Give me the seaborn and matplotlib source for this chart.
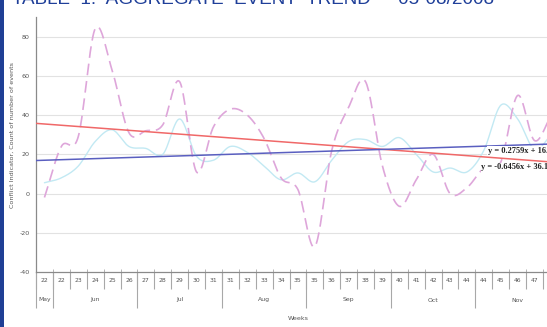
import numpy as np
import pandas as pd
import matplotlib
matplotlib.use("Agg")
import matplotlib.pyplot as plt
from matplotlib.patches import Rectangle
import seaborn as sns

# Week numbers along the category axis and the month each week falls in
weeks = [22, 22, 23, 24, 25, 26, 27, 28, 29, 30, 31, 31, 32, 33, 34, 35,
         35, 36, 37, 38, 39, 40, 41, 42, 43, 44, 44, 45, 46, 47, 48]
months = ["May", "Jun", "Jul", "Aug", "Sep", "Oct", "Nov"]
month_weeks = [1, 5, 5, 5, 5, 5, 5]

# Weekly count of events
events = [-2, 24, 29, 84, 63, 31, 32, 35, 57, 11, 34, 43, 40, 28, 8, 2,
          -27, 22, 44, 57, 14, -6.5, 7, 20, 0, 3, 13, 16, 50, 27, 40]
# Weekly conflict indicator
conflict = [5.5, 8, 14, 26.5, 32.5, 24, 23, 20, 38, 19, 17, 24, 21, 14, 7,
            10.5, 6, 17, 26.5, 27.5, 24, 28.5, 20, 11, 13, 11, 22, 45, 38,
            22.5, 30]

# Linear trend lines (slope, intercept), x counted from 1
events_trend = (-0.6456, 36.1)
conflict_trend = (0.2759, 16.7)

yticks = [-40, -20, 0, 20, 40, 60, 80]


def smooth(values, n=24):
    """Catmull-Rom curve through the weekly values (x = category index)."""
    y = np.asarray(values, float)
    p = np.concatenate([[2 * y[0] - y[1]], y, [2 * y[-1] - y[-2]]])
    t = np.linspace(0, 1, n, endpoint=False)
    xs, ys = [], []
    for k in range(len(y) - 1):
        p0, p1, p2, p3 = p[k:k + 4]
        seg = 0.5 * (2 * p1 + (-p0 + p2) * t
                     + (2 * p0 - 5 * p1 + 4 * p2 - p3) * t ** 2
                     + (-p0 + 3 * p1 - 3 * p2 + p3) * t ** 3)
        xs.append(k + t)
        ys.append(seg)
    xs.append([len(y) - 1])
    ys.append([y[-1]])
    return np.concatenate(xs), np.concatenate(ys)


sns.set_style("white")
plt.rcParams["font.family"] = ["DejaVu Sans"]

W, H = 547, 327
fig = plt.figure(figsize=(W / 100, H / 100), dpi=100)
ax_left, ax_right, ax_bottom, ax_top = 36, W, 272, 17
ax = fig.add_axes([ax_left / W, (H - ax_bottom) / H,
                   (ax_right - ax_left) / W, (ax_bottom - ax_top) / H])

cat_px = 16.9
x_max = -0.5 + (ax_right - ax_left) / cat_px
ax.set_xlim(-0.5, x_max)
ax.set_ylim(-40, 90)

# grid
for v in yticks[1:]:
    ax.axhline(v, color="#e2e2e2", lw=0.8, zorder=0)

# series
ex, ey = smooth(events)
cx, cy = smooth(conflict)
df_e = pd.DataFrame({"x": ex, "y": ey})
df_c = pd.DataFrame({"x": cx, "y": cy})
sns.lineplot(data=df_c, x="x", y="y", ax=ax, color="#c2e9f3", lw=1.0,
             estimator=None, sort=False, zorder=2)
sns.lineplot(data=df_e, x="x", y="y", ax=ax, color="#dea6da", lw=1.2,
             estimator=None, sort=False, linestyle=(0, (7, 3.5)), zorder=3)

# trend lines
tx = np.array([-0.5, x_max])
for (m, b), col in [(events_trend, "#f06868"), (conflict_trend, "#5a5fc0")]:
    sns.lineplot(x=tx, y=m * (tx + 1) + b, ax=ax, color=col, lw=1.1,
                 estimator=None, sort=False, zorder=4)

# trend equations
lab_font = dict(family="Liberation Serif", fontweight="bold", fontsize=6.0,
                color="#222222", zorder=6, clip_on=False)
m, b = conflict_trend
ax.text(26.25, 21.6, f"y = {m:.4f}x + {b:.1f}", ha="left", va="center",
        bbox=dict(facecolor="white", edgecolor="none", pad=0.6), **lab_font)
m, b = events_trend
ax.text(25.83, 13.3, f"y = {m:.4f}x + {b:.1f}", ha="left", va="center",
        bbox=dict(facecolor="white", edgecolor="none", pad=0.3), **lab_font)

# axes styling
for s in ["top", "right"]:
    ax.spines[s].set_visible(False)
ax.spines["left"].set_color("#8a8a8a")
ax.spines["bottom"].set_color("#8a8a8a")
ax.spines["left"].set_linewidth(0.9)
ax.spines["bottom"].set_linewidth(0.9)
ax.set_yticks(yticks)
ax.set_yticklabels([str(v) for v in yticks])
ax.tick_params(axis="y", length=3, width=0.6, color="#8a8a8a", pad=1.5,
               labelsize=4.6, labelcolor="#555555")
ax.set_xticks([])
ax.set_xlabel("")
ax.set_ylabel("")

# category axis: week labels, separators, month labels
trans = ax.get_xaxis_transform()
ah = ax_bottom - ax_top
def ax_y(px):
    return (ax_bottom - px) / ah

sep = "#a8a8a8"
bounds = np.arange(len(weeks) + 1) - 0.5
bounds = bounds[bounds <= x_max]
ax.vlines(bounds, ax_y(275.5), ax_y(268.5), transform=trans, color=sep,
          lw=0.6, clip_on=False)
ax.vlines(bounds, ax_y(289), ax_y(272), transform=trans, color=sep,
          lw=0.8, clip_on=False)
month_edges = np.concatenate([[0], np.cumsum(month_weeks)]) - 0.5
ax.vlines(month_edges[:-1], ax_y(308), ax_y(272), transform=trans,
          color=sep, lw=0.8, clip_on=False)
for i, w in enumerate(weeks):
    if i + 0.3 > x_max:
        continue
    ax.text(i, ax_y(280.5), str(w), transform=trans, ha="center",
            va="center", fontsize=4.4, color="#555555", clip_on=False)
for k, name in enumerate(months):
    c = (month_edges[k] + month_edges[k + 1]) / 2
    ax.text(c, ax_y(300), name, transform=trans, ha="center", va="center",
            fontsize=4.4, color="#555555", clip_on=False)
ax.text(15.0, ax_y(318), "Weeks", transform=trans, ha="center", va="center",
        fontsize=4.6, color="#555555", clip_on=False)

fig.text(12 / W, (H - 135) / H, "Conflict Indicator, Count of number of events",
         rotation=90, ha="center", va="center", fontsize=4.6, color="#555555")

# page title above the chart
title = fig.text(12 / W, (H - 3.5) / H,
                 "TABLE  1:  AGGREGATE  EVENT  TREND  -  05-08/2008",
                 ha="left", va="baseline", family="Liberation Sans",
                 fontsize=14, color="#1f3f99")
fig.canvas.draw()
tw = title.get_window_extent().width
title.set_fontsize(14 * 485 / tw)

# page border strip on the left
fig.patches.append(Rectangle((0, 0), 4 / W, 1, transform=fig.transFigure,
                             facecolor="#1f3f95", edgecolor="none"))

fig.savefig("out.png", dpi=100)
